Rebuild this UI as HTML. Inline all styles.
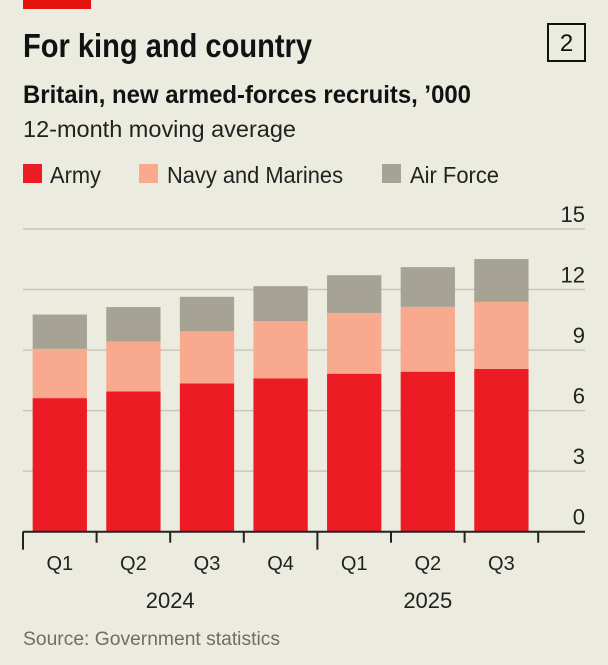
<!DOCTYPE html>
<html><head><meta charset="utf-8"><style>
html,body{margin:0;padding:0;background:#ecebe0;}
svg{display:block;font-family:"Liberation Sans",sans-serif;}
</style></head><body>
<svg id="chart" width="608" height="665" viewBox="0 0 608 665">
<rect x="0" y="0" width="608" height="665" fill="#ecebe0"/>
<rect x="23" y="0" width="68" height="9" fill="#e3120b"/>
<text x="23" y="57" font-size="33" font-weight="bold" fill="#121212" textLength="289" lengthAdjust="spacingAndGlyphs">For king and country</text>
<rect x="548" y="24" width="37" height="37" fill="none" stroke="#121212" stroke-width="2"/>
<text x="566.5" y="51" font-size="24" text-anchor="middle" fill="#121212">2</text>
<text x="23" y="103" font-size="25" font-weight="bold" fill="#121212" textLength="448" lengthAdjust="spacingAndGlyphs">Britain, new armed-forces recruits, ’000</text>
<text x="23" y="137" font-size="23" fill="#222" textLength="273" lengthAdjust="spacingAndGlyphs">12-month moving average</text>
<g>
<rect x="23" y="164" width="19" height="19" fill="#ed1c24"/>
<text x="50" y="183" font-size="23" fill="#222" textLength="51" lengthAdjust="spacingAndGlyphs">Army</text>
<rect x="139" y="164" width="19" height="19" fill="#f9a98e"/>
<text x="167" y="183" font-size="23" fill="#222" textLength="176" lengthAdjust="spacingAndGlyphs">Navy and Marines</text>
<rect x="382" y="164" width="19" height="19" fill="#a6a394"/>
<text x="410" y="183" font-size="23" fill="#222" textLength="89" lengthAdjust="spacingAndGlyphs">Air Force</text>
</g>
<g id="grid"></g>
<g id="bars"></g>
<g id="axis"></g>
<text x="23" y="645" font-size="19" fill="#6f6d66" textLength="257" lengthAdjust="spacingAndGlyphs">Source: Government statistics</text>
</svg>
<script>
const categories = ["Q1","Q2","Q3","Q4","Q1","Q2","Q3"];
const years = ["2024","2025"];
const army = [6.62, 6.95, 7.35, 7.6, 7.83, 7.93, 8.07];
const navy = [2.44, 2.47, 2.58, 2.83, 3.01, 3.21, 3.32];
const airForce = [1.70, 1.71, 1.71, 1.74, 1.87, 1.97, 2.12];
const yTicks = [0, 3, 6, 9, 12, 15];

const NS = "http://www.w3.org/2000/svg";
const x0 = 23, step = 73.6, barW = 54.3, gridR = 585;
const yZero = 531.7, yTop = 229, yMax = 15;
function y(v){ return yZero - (yZero - yTop) * v / yMax; }
function xBand(i){ return x0 + step * i; }
function mk(tag, attrs, parent){
  const e = document.createElementNS(NS, tag);
  for (const k in attrs) e.setAttribute(k, attrs[k]);
  parent.appendChild(e); return e;
}
const grid = document.getElementById("grid");
const bars = document.getElementById("bars");
const axis = document.getElementById("axis");
yTicks.forEach(t => {
  if (t > 0) {
    const l = mk("line", {x1: x0, x2: gridR, y1: y(t), y2: y(t), stroke: "#c9c7bb", "stroke-width": 1.5}, grid);
    
    
  }
  const tx = mk("text", {x: gridR, y: y(t) - 7, "font-size": 22, "text-anchor": "end", fill: "#222"}, grid);
  tx.textContent = t;
  
  
});
const series = [[army, "#ed1c24", "army"], [navy, "#f9a98e", "navy"], [airForce, "#a6a394", "air-force"]];
categories.forEach((c, i) => {
  let base = 0;
  series.forEach(([arr, col, nm]) => {
    const v = arr[i];
    const r = mk("rect", {x: xBand(i) + (step - barW) / 2, y: y(base + v), width: barW, height: y(base) - y(base + v), fill: col}, bars);
    
    
    base += v;
  });
  const lb = mk("text", {x: xBand(i) + step / 2, y: 570, "font-size": 20, "text-anchor": "middle", fill: "#222"}, axis);
  lb.textContent = c;
  
  
});
const bl = mk("line", {x1: x0, x2: gridR, y1: yZero, y2: yZero, stroke: "#222", "stroke-width": 2}, axis);


for (let i = 0; i <= categories.length; i++) {
  const long = (i % 4 === 0);
  const tk = mk("line", {x1: xBand(i), x2: xBand(i), y1: yZero, y2: yZero + (long ? 18 : 11), stroke: "#222", "stroke-width": 2}, axis);
  
  
}
years.forEach((yr, j) => {
  const start = j * 4, n = Math.min(4, categories.length - start);
  const t = mk("text", {x: xBand(start) + step * n / 2, y: 608, "font-size": 22, "text-anchor": "middle", fill: "#222"}, axis);
  t.textContent = yr;
  
  
});
</script>
</body></html>
